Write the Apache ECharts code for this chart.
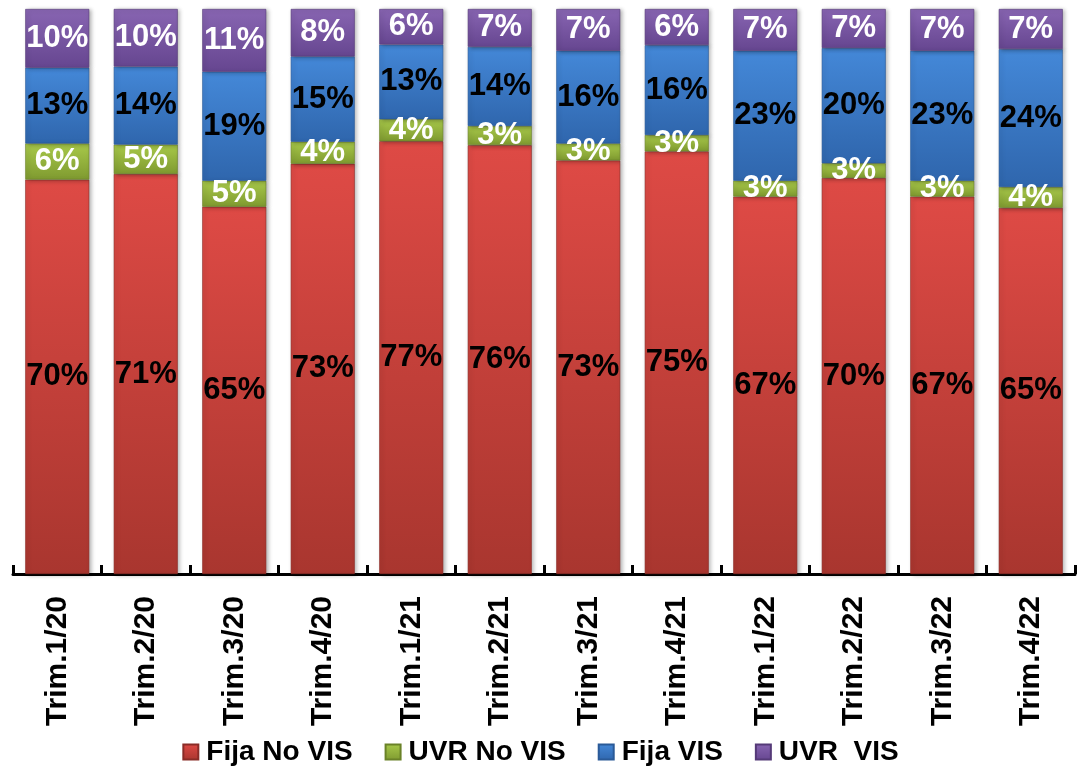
<!DOCTYPE html>
<html>
<head>
<meta charset="utf-8">
<script src="https://cdn.jsdelivr.net/npm/echarts@6/dist/echarts.min.js"></script>
<style>
html,body{margin:0;padding:0;background:#fff;}
#chart{width:1081px;height:766px;}
</style>
</head>
<body>
<div id="chart"></div>
<script>
const categories = ['Trim.1/20','Trim.2/20','Trim.3/20','Trim.4/20','Trim.1/21','Trim.2/21','Trim.3/21','Trim.4/21','Trim.1/22','Trim.2/22','Trim.3/22','Trim.4/22'];
const fijaNoVIS = [69.8, 70.8, 65.0, 72.6, 76.6, 75.9, 73.2, 74.8, 66.8, 70.1, 66.8, 64.8];
const uvrNoVIS  = [6.4, 5.2, 4.6, 3.9, 3.9, 3.4, 3.0, 2.9, 2.8, 2.6, 2.8, 3.7];
const fijaVIS   = [13.4, 13.8, 19.3, 15.1, 13.2, 14.0, 16.4, 15.9, 23.0, 20.4, 23.0, 24.4];
const uvrVIS    = [10.4, 10.2, 11.1, 8.4, 6.3, 6.7, 7.4, 6.4, 7.4, 6.9, 7.4, 7.1];
const seriesNames = ['Fija No VIS', 'UVR No VIS', 'Fija VIS', 'UVR  VIS'];

const FONT = '"Liberation Sans", Arial, sans-serif';
function grad(top, bottom) {
  return new echarts.graphic.LinearGradient(0, 0, 0, 1, [
    {offset: 0, color: top}, {offset: 1, color: bottom}
  ]);
}
const styles = [
  {top: '#de4a45', bottom: '#a9362f', border: '#8a2c27', label: '#000'},
  {top: '#a8c94a', bottom: '#7f9a30', border: '#6a8228', label: '#fff'},
  {top: '#4488d8', bottom: '#2f66ad', border: '#2a5a98', label: '#000'},
  {top: '#8865b2', bottom: '#664690', border: '#553a78', label: '#fff'}
];
const dataSets = [fijaNoVIS, uvrNoVIS, fijaVIS, uvrVIS];

const chart = echarts.init(document.getElementById('chart'));
chart.setOption({
  animation: false,
  backgroundColor: '#fff',
  grid: {left: 13, right: 6, top: 9, bottom: 192, containLabel: false},
  legend: {
    top: 733,
    left: 'center',
    itemWidth: 15,
    itemHeight: 15,
    itemGap: 32,
    icon: 'rect',
    textStyle: {fontFamily: FONT, fontWeight: 'bold', fontSize: 28, color: '#000', padding: [0, 0, 0, 3]},
    data: seriesNames
  },
  xAxis: {
    type: 'category',
    data: categories,
    axisLine: {lineStyle: {color: '#000', width: 3}},
    axisTick: {show: true, inside: true, length: 9, lineStyle: {color: '#000', width: 3}},
    axisLabel: {rotate: 90, margin: 22, fontFamily: FONT, fontWeight: 'bold', fontSize: 30, color: '#000'}
  },
  yAxis: {
    type: 'value', min: 0, max: 100, interval: 20, show: false,
    splitLine: {show: false}
  },
  series: dataSets.map((d, i) => ({
    name: seriesNames[i],
    type: 'bar',
    stack: 'total',
    barWidth: 64,
    data: d,
    itemStyle: {
      color: grad(styles[i].top, styles[i].bottom),
      borderColor: styles[i].border,
      borderWidth: 0.6,
      shadowColor: 'rgba(0,0,0,0.3)',
      shadowBlur: 4,
      shadowOffsetX: 2,
      shadowOffsetY: 1
    },
    label: {
      show: true,
      position: 'inside',
      formatter: p => Math.round(p.value) + '%',
      fontFamily: FONT,
      fontWeight: 'bold',
      fontSize: 31,
      color: styles[i].label
    }
  }))
});
</script>
</body>
</html>
